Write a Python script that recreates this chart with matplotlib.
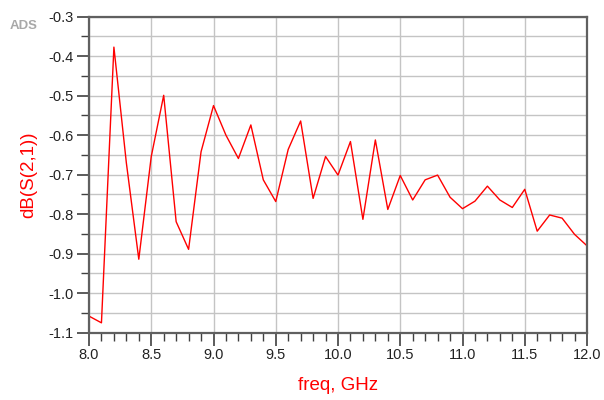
import numpy as np
import matplotlib.pyplot as plt
from matplotlib.ticker import MultipleLocator

plt.rcParams['font.family'] = ['Liberation Sans', 'DejaVu Sans']

freq = [8.0, 8.1, 8.2, 8.3, 8.4, 8.5, 8.6, 8.7, 8.8, 8.9,
        9.0, 9.1, 9.2, 9.3, 9.4, 9.5, 9.6, 9.7, 9.8, 9.9,
        10.0, 10.1, 10.2, 10.3, 10.4, 10.5, 10.6, 10.7, 10.8, 10.9,
        11.0, 11.1, 11.2, 11.3, 11.4, 11.5, 11.6, 11.7, 11.8, 11.9, 12.0]
s21_db = [-1.058, -1.075, -0.377, -0.67, -0.914, -0.654, -0.499, -0.819, -0.889, -0.642,
          -0.525, -0.600, -0.659, -0.574, -0.713, -0.768, -0.636, -0.564, -0.760, -0.654,
          -0.701, -0.616, -0.813, -0.612, -0.788, -0.702, -0.764, -0.713, -0.701, -0.757,
          -0.786, -0.767, -0.729, -0.764, -0.783, -0.737, -0.843, -0.802, -0.810, -0.851, -0.880]

fig = plt.figure(figsize=(6.04, 4.0), dpi=100)
ax = fig.add_axes([89/604, 1 - 332.7/400, 498/604, 316/400])

ax.plot(freq, s21_db, color='#ff0000', lw=1.0)

ax.set_xlim(8.0, 12.0)
ax.set_ylim(-1.1, -0.3)
ax.xaxis.set_major_locator(MultipleLocator(0.5))
ax.xaxis.set_minor_locator(MultipleLocator(0.1))
ax.yaxis.set_major_locator(MultipleLocator(0.1))
ax.yaxis.set_minor_locator(MultipleLocator(0.05))
ax.xaxis.set_major_formatter(plt.FormatStrFormatter('%.1f'))
ax.yaxis.set_major_formatter(plt.FormatStrFormatter('%.1f'))

ax.grid(True, which='major', color='#c4c4c4', lw=1.0)
ax.grid(True, which='minor', axis='y', color='#c4c4c4', lw=1.0)
ax.grid(True, which='minor', axis='x', color='none')
ax.set_axisbelow(True)

for sp in ax.spines.values():
    sp.set_color('#606060')
    sp.set_linewidth(1.6)

ax.tick_params(which='major', direction='out', length=9, width=1.2, color='#404040',
               labelsize=10.5, labelcolor='#222222', pad=2)
ax.tick_params(which='minor', direction='out', length=6, width=1.0, color='#404040')

ax.set_xlabel('freq, GHz', color='#ff0000', fontsize=13.5, labelpad=11)
ax.set_ylabel('dB(S(2,1))', color='#ff0000', fontsize=13.5, labelpad=8)

fig.text(24/604, 1 - 26/400, 'ADS', color='#a8a8a8', fontsize=9.5,
         fontweight='bold', ha='center', va='center')

fig.savefig('out.png', dpi=100)
